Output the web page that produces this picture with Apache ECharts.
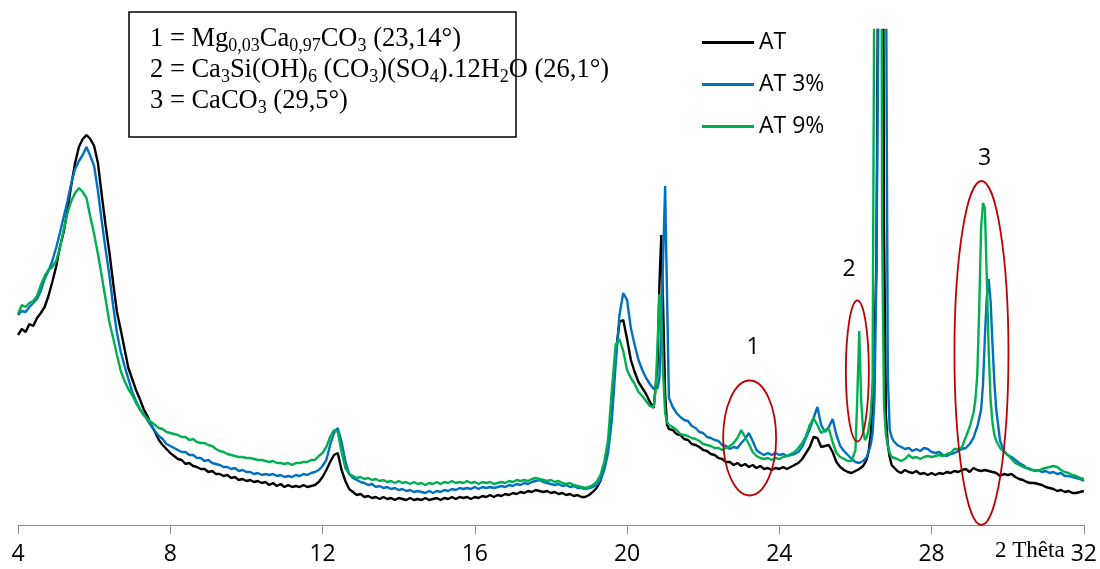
<!DOCTYPE html>
<html><head><meta charset="utf-8">
<script src="https://cdn.jsdelivr.net/npm/echarts/dist/echarts.min.js"></script>
<style>html,body{margin:0;padding:0;background:#fff}#c{width:1100px;height:569px}</style>
</head><body><div id="c"></div>
<script>
// 2-theta positions (degrees)
const theta = [
 4.0,4.1,4.2,4.3,4.4,4.5,4.6,4.7,4.8,4.9,5.0,5.1,5.2,5.3,5.4,5.5,5.6,5.7,5.8,5.9,6.0,6.1,6.2,6.3,6.4,6.5,6.6,6.7,6.8,6.9,7.0,7.1,7.2,7.3,7.4,7.5,7.6,7.7,7.8,7.9,8.0,
 8.1,8.2,8.3,8.4,8.5,8.6,8.7,8.8,8.9,9.0,9.1,9.2,9.3,9.4,9.5,9.6,9.7,9.8,9.9,10.0,10.1,10.2,10.3,10.4,10.5,10.6,10.7,10.8,10.9,11.0,11.1,11.2,11.3,11.4,11.5,11.6,11.7,11.8,11.9,12.0,
 12.1,12.2,12.3,12.4,12.5,12.6,12.7,12.8,12.9,13.0,13.1,13.2,13.3,13.4,13.5,13.6,13.7,13.8,13.9,14.0,14.1,14.2,14.3,14.4,14.5,14.6,14.7,14.8,14.9,15.0,15.1,15.2,15.3,15.4,15.5,15.6,15.7,15.8,15.9,16.0,16.1,16.2,16.3,16.4,16.5,16.6,16.7,16.8,16.9,17.0,17.1,17.2,17.3,17.4,17.5,17.6,17.7,17.8,17.9,18.0,18.1,18.2,18.3,18.4,18.5,18.6,18.7,18.8,18.9,19.0,19.1,19.2,19.3,19.4,
 19.5,19.6,19.7,19.8,19.9,20.0,20.1,20.2,20.3,20.4,20.5,20.6,20.7,20.75,20.8,20.85,20.9,20.95,21.0,21.05,21.1,
 21.2,21.3,21.4,21.5,21.6,21.7,21.8,21.9,22.0,22.1,22.2,22.3,22.4,22.5,22.6,22.7,22.8,22.9,23.0,23.1,23.2,23.3,23.4,23.5,23.6,23.7,23.8,23.9,24.0,24.1,24.2,24.3,24.4,24.5,24.6,24.7,24.8,24.9,25.0,25.1,25.2,25.3,25.4,25.5,25.6,25.7,25.8,25.9,
 25.95,26.0,26.05,26.1,26.15,26.2,26.25,26.3,26.35,26.4,26.45,26.5,26.55,26.6,26.65,26.7,26.75,26.8,26.85,26.9,26.95,
 27.0,27.1,27.2,27.3,27.4,27.5,27.6,27.7,27.8,27.9,28.0,28.1,28.2,28.3,28.4,28.5,28.6,28.7,28.8,28.9,29.0,29.1,
 29.15,29.2,29.25,29.3,29.35,29.4,29.45,29.5,29.55,29.6,29.65,29.7,
 29.8,29.9,30.0,30.1,30.2,30.3,30.4,30.5,30.6,30.7,30.8,30.9,31.0,31.1,31.2,31.3,31.4,31.5,31.6,31.7,31.8,31.9,32.0
];
// Intensities (arbitrary units)
const at = [
 190,196,193,201,199,207,212,218,229,243,258,278,293,315,340,362,378,386,390,386,379,362,330,300,273,242,213,195,176,157,146,135,126,116,109,100,93,85,80,76,72,
 69,66,65,61,62,59,58,56,56,53,54,51,51,49,50,47,48,45,46,44,45,43,44,42,43,40,42,39,41,38,40,38,39,38,40,38,39,40,43,48,
 55,63,70,72,55,44,36,33,30,31,28,29,27,28,26,28,26,27,25,27,26,25,27,25,26,25,27,25,26,27,25,27,26,28,26,28,27,28,26,28,27,29,28,30,28,30,29,31,30,32,31,33,32,34,33,35,34,33,34,32,33,31,32,30,31,29,30,28,28,30,33,37,44,57,
 80,115,170,203,205,186,165,153,143,137,131,123,117,116,160,240,290,215,131,100,96,
 95,91,90,86,85,81,80,78,75,74,71,70,67,66,63,63,60,62,59,61,58,60,57,59,56,57,55,57,56,58,56,58,60,62,66,72,78,88,87,78,79,80,73,63,58,55,53,52,
 53,54,55,56,57,59,62,66,75,90,125,180,260,600,1800,1000,300,110,80,68,60,
 58,54,52,55,53,52,54,51,52,50,52,50,52,51,53,52,54,53,55,56,53,57,
 56,55,53,54,52,55,53,54,52,53,51,52,
 49,51,50,51,48,46,45,43,42,42,41,40,38,37,36,34,35,33,34,32,32,33,34
];
const at3 = [
 210,214,213,218,222,226,234,246,254,264,277,292,308,324,342,356,364,370,378,369,359,334,304,276,250,219,192,173,159,146,133,124,116,111,105,99,94,89,86,81,79,
 77,75,73,73,70,70,67,67,64,65,62,61,60,58,58,56,57,54,55,53,53,51,52,50,51,50,51,49,50,48,49,48,50,49,51,50,52,53,55,59,
 65,80,92,97,83,64,51,47,45,43,42,40,41,38,39,37,38,36,37,35,36,34,35,33,34,33,32,34,32,34,33,35,34,36,35,37,36,37,36,38,36,38,37,38,37,38,39,38,40,39,41,40,42,41,43,44,45,43,42,41,40,41,39,40,38,39,37,37,36,37,38,40,45,55,
 72,105,160,210,232,225,197,180,165,155,147,141,136,134,137,147,195,270,339,230,127,
 118,112,108,105,104,99,97,93,92,88,87,85,84,80,79,76,78,77,82,86,92,84,75,72,70,72,70,72,70,71,69,70,71,73,78,87,96,107,118,100,93,98,106,90,79,74,70,66,
 64,63,62,62,63,64,66,68,74,80,92,125,250,500,1200,1800,1400,600,150,95,88,
 84,80,78,76,77,74,76,74,77,76,73,72,73,70,69,71,72,74,76,77,81,87,
 93,98,100,115,140,188,228,246,224,181,142,115,
 84,74,70,68,65,62,60,57,56,54,55,53,54,52,53,51,52,49,49,48,47,46,44
];
const at9 = [
 211,220,218,222,224,229,240,249,255,258,264,277,295,312,324,332,337,333,327,308,291,271,249,226,203,187,170,154,144,136,130,122,116,110,106,103,100,97,96,93,92,
 91,90,88,88,85,86,83,82,82,80,79,76,74,73,71,70,69,68,68,67,67,66,65,65,64,63,64,62,62,61,62,60,62,62,63,63,65,65,69,72,
 78,88,95,93,73,57,51,49,47,48,46,47,45,46,44,45,43,44,42,44,42,43,41,43,41,42,40,42,41,43,41,43,42,44,42,43,42,44,42,43,41,43,42,43,41,42,43,42,44,43,45,44,45,44,46,47,46,45,44,45,43,44,42,41,42,40,39,38,37,38,40,43,50,63,
 85,135,180,186,174,155,147,141,133,129,124,119,118,135,180,231,205,150,112,103,100,
 98,95,91,90,89,87,86,84,81,80,79,77,77,75,77,79,82,87,95,88,81,73,69,67,66,67,65,67,66,68,69,71,73,77,82,89,100,107,100,92,95,96,83,72,68,66,64,64,
 66,75,130,194,125,95,85,88,97,110,144,600,1500,2000,1200,300,120,90,80,72,68,
 67,66,64,66,70,67,68,66,68,69,68,69,70,69,71,72,76,76,78,88,98,112,
 125,150,214,297,322,317,247,175,125,102,90,84,
 77,73,70,66,62,60,58,57,55,55,54,56,57,58,59,58,55,53,52,50,49,47,46
];
const seriesNames = ['AT', 'AT 3%', 'AT 9%'];
const seriesColors = ['#000000', '#0070C0', '#00B050'];
const xMin = 4, xMax = 32, xStep = 4;
const axisTitle = '2 Thêta';
// annotation marks (data coordinates)
const peakLabels = ['1', '2', '3'];
const peakLabelAt = [[23.31, 178], [25.83, 256], [29.39, 367]];
const ellipseAt = [[23.22, 87], [26.05, 154], [29.31, 172]];
const ellipseR = [[26.5, 57.5], [11.5, 70.5], [27, 172]];
const boxText =
  '{n|1 = Mg}{s|0,03}{n|Ca}{s|0,97}{n|CO}{s|3}{n| (23,14°)}\n' +
  '{n|2 = Ca}{s|3}{n|Si(OH)}{s|6}{n| (CO}{s|3}{n|)(SO}{s|4}{n|).12H}{s|2}{n|O (26,1°)}\n' +
  '{n|3 = CaCO}{s|3}{n| (29,5°)}';

[at, at3, at9].forEach((a, i) => { if (a.length !== theta.length) throw new Error('length mismatch ' + i + ': ' + a.length + ' vs ' + theta.length); });

const chart = echarts.init(document.getElementById('c'), null, {renderer: 'canvas'});
const series = [at, at3, at9].map((vals, k) => ({
  name: seriesNames[k], type: 'line', data: theta.map((t, i) => [t, vals[i]]),
  showSymbol: false, symbol: 'none', clip: true, animation: false,
  lineStyle: {color: seriesColors[k], width: 2.4}, itemStyle: {color: seriesColors[k]},
  emphasis: {disabled: true}
}));
chart.setOption({
  animation: false,
  grid: {left: 18, right: 13, top: 30, bottom: 44},
  legend: {
    orient: 'vertical', left: 702, top: 31, padding: 0, itemGap: 19,
    itemWidth: 52, itemHeight: 3, icon: 'rect', selectedMode: false,
    data: seriesNames,
    textStyle: {fontFamily: 'Open Sans', fontSize: 23, color: '#000'}
  },
  xAxis: {
    type: 'value', min: xMin, max: xMax, interval: xStep,
    axisLine: {lineStyle: {color: '#8c8c8c', width: 1}},
    axisTick: {show: true, length: 9, lineStyle: {color: '#8c8c8c'}},
    splitLine: {show: false},
    axisLabel: {fontFamily: 'Open Sans', fontSize: 23, color: '#000', margin: 18}
  },
  yAxis: {type: 'value', min: 0, max: 495, show: false, splitLine: {show: false}},
  series: series
});

const P = v => chart.convertToPixel({xAxisIndex: 0, yAxisIndex: 0}, v);
const graphic = [];
graphic.push({type: 'rect', z: 100, shape: {x: 129, y: 12, width: 387, height: 125},
  style: {fill: '#fff', stroke: '#000', lineWidth: 1.5}});
graphic.push({type: 'text', z: 101, x: 150, y: 24, style: {
  text: boxText, fill: '#000',
  rich: {
    n: {fontFamily: 'Liberation Serif', fontSize: 26.5, lineHeight: 31, fill: '#000', verticalAlign: 'middle'},
    s: {fontFamily: 'Liberation Serif', fontSize: 18, lineHeight: 19, fill: '#000', verticalAlign: 'bottom'}
  }}});
ellipseAt.forEach((c, i) => {
  const p = P(c);
  graphic.push({type: 'ellipse', z: 90, shape: {cx: p[0], cy: p[1], rx: ellipseR[i][0], ry: ellipseR[i][1]},
    style: {fill: 'none', stroke: '#C00000', lineWidth: 1.8}});
});
peakLabelAt.forEach((c, i) => {
  const p = P(c);
  graphic.push({type: 'text', z: 95, x: p[0], y: p[1], style: {text: peakLabels[i],
    fontFamily: 'Open Sans', fontSize: 23, fill: '#000', align: 'center', verticalAlign: 'middle'}});
});
const tp = P([30.58, 0]);
graphic.push({type: 'text', z: 95, x: tp[0], y: tp[1] + 26, style: {text: axisTitle,
  fontFamily: 'Liberation Serif', fontSize: 23, fill: '#000', align: 'center', verticalAlign: 'middle'}});
chart.setOption({graphic: graphic});
</script>
</body></html>
